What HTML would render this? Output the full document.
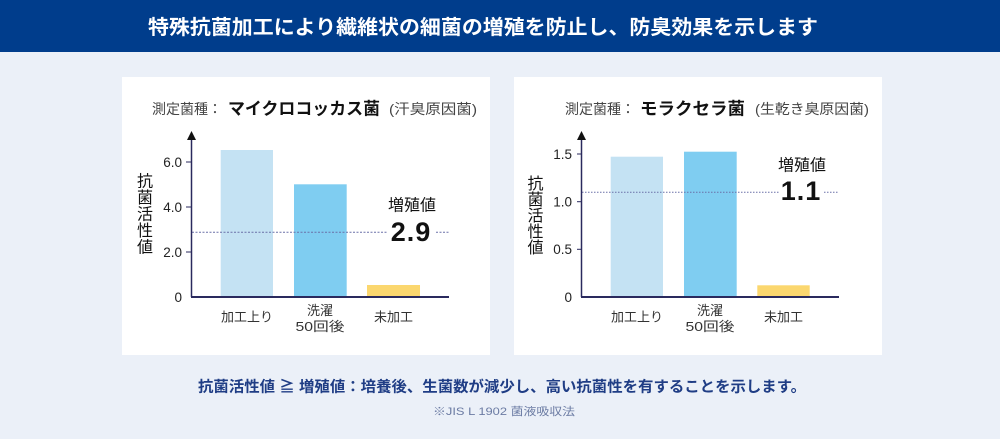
<!DOCTYPE html>
<html><head><meta charset="utf-8"><style>
html,body{margin:0;padding:0;background:#ebf0f8;}
svg{display:block;}
text{font-family:"Liberation Sans","Noto Sans CJK JP",sans-serif;}
</style></head><body>
<svg width="1000" height="439" viewBox="0 0 1000 439" xmlns="http://www.w3.org/2000/svg">
<rect x="0" y="0" width="1000" height="439" fill="#ebf0f8"/>
<rect x="0" y="0" width="1000" height="52" fill="#003d8c"/>
<text x="148" y="34" font-size="20" font-weight="bold" fill="#ffffff" textLength="670" lengthAdjust="spacingAndGlyphs">特殊抗菌加工により繊維状の細菌の増殖を防止し、防臭効果を示します</text>

<!-- Panel 1 -->
<rect x="122" y="77" width="368" height="278" fill="#ffffff"/>
<text y="114" font-size="14" fill="#444"><tspan x="152">測定菌種：</tspan></text>
<text x="228" y="114.5" font-size="17" font-weight="bold" fill="#111" textLength="152" lengthAdjust="spacingAndGlyphs">マイクロコッカス菌</text>
<text x="389" y="114" font-size="14" fill="#444" textLength="88" lengthAdjust="spacingAndGlyphs">(汗臭原因菌)</text>

<g font-size="16" fill="#111" text-anchor="middle">
<text x="145" y="186.5">抗</text>
<text x="145" y="203">菌</text>
<text x="145" y="219.5">活</text>
<text x="145" y="236">性</text>
<text x="145" y="252.5">値</text>
</g>
<g font-size="13.5" fill="#222" text-anchor="end">
<text x="182" y="166.8">6.0</text>
<text x="182" y="211.8">4.0</text>
<text x="182" y="256.8">2.0</text>
<text x="182" y="301.8">0</text>
</g>
<g stroke="#2a2a5e" stroke-width="1">
<line x1="186" y1="162" x2="191" y2="162"/>
<line x1="186" y1="207" x2="191" y2="207"/>
<line x1="186" y1="252" x2="191" y2="252"/>
</g>
<rect x="220.7" y="150" width="52.3" height="146.5" fill="#c4e2f3"/>
<rect x="294" y="184.3" width="52.7" height="112.2" fill="#7fcdf1"/>
<rect x="367" y="285" width="53" height="11.5" fill="#fbd76f"/>
<line x1="192" y1="232.3" x2="387" y2="232.3" stroke="#6a70a8" stroke-width="1" stroke-dasharray="2,1.5"/>
<line x1="436" y1="232.3" x2="449" y2="232.3" stroke="#6a70a8" stroke-width="1" stroke-dasharray="2,1.5"/>
<line x1="191.5" y1="138" x2="191.5" y2="297" stroke="#2a2a5e" stroke-width="1.5"/>
<polygon points="191.5,131 187,140 196,140" fill="#111"/>
<line x1="191" y1="297" x2="449" y2="297" stroke="#2a2a5e" stroke-width="2"/>
<text x="412" y="210.5" font-size="16" fill="#111" text-anchor="middle">増殖値</text>
<text x="411" y="241" font-size="27" font-weight="bold" fill="#111" text-anchor="middle" letter-spacing="1">2.9</text>
<g font-size="13" fill="#333" text-anchor="middle">
<text x="247" y="321.5">加工上り</text>
<text x="320" y="315">洗濯</text>
<text x="295.5" y="331" text-anchor="start" textLength="49" lengthAdjust="spacingAndGlyphs">50回後</text>
<text x="393.5" y="321.5">未加工</text>
</g>

<!-- Panel 2 -->
<rect x="514" y="77" width="368" height="278" fill="#ffffff"/>
<text x="565" y="114" font-size="14" fill="#444">測定菌種：</text>
<text x="640" y="114.5" font-size="17" font-weight="bold" fill="#111" textLength="105" lengthAdjust="spacingAndGlyphs">モラクセラ菌</text>
<text x="755" y="114" font-size="14" fill="#444" textLength="114" lengthAdjust="spacingAndGlyphs">(生乾き臭原因菌)</text>

<g font-size="16" fill="#111" text-anchor="middle">
<text x="535.5" y="189">抗</text>
<text x="535.5" y="205">菌</text>
<text x="535.5" y="221">活</text>
<text x="535.5" y="237">性</text>
<text x="535.5" y="253">値</text>
</g>
<g font-size="13.5" fill="#222" text-anchor="end">
<text x="572" y="158.8">1.5</text>
<text x="572" y="206.5">1.0</text>
<text x="572" y="254.1">0.5</text>
<text x="572" y="301.8">0</text>
</g>
<g stroke="#2a2a5e" stroke-width="1">
<line x1="577" y1="154" x2="581" y2="154"/>
<line x1="577" y1="201.7" x2="581" y2="201.7"/>
<line x1="577" y1="249.3" x2="581" y2="249.3"/>
</g>
<rect x="610.7" y="156.7" width="52.3" height="139.8" fill="#c4e2f3"/>
<rect x="684" y="151.7" width="52.7" height="144.8" fill="#7fcdf1"/>
<rect x="757.3" y="285.3" width="52.4" height="11.2" fill="#fbd76f"/>
<line x1="582" y1="192.3" x2="779" y2="192.3" stroke="#6a70a8" stroke-width="1" stroke-dasharray="1.5,1.5"/>
<line x1="824" y1="192.3" x2="839" y2="192.3" stroke="#6a70a8" stroke-width="1" stroke-dasharray="1.5,1.5"/>
<line x1="581.5" y1="138" x2="581.5" y2="297" stroke="#2a2a5e" stroke-width="1.5"/>
<polygon points="581.5,131 577,140 586,140" fill="#111"/>
<line x1="581" y1="297" x2="839" y2="297" stroke="#2a2a5e" stroke-width="2"/>
<text x="802" y="170.5" font-size="16" fill="#111" text-anchor="middle">増殖値</text>
<text x="801" y="200" font-size="27" font-weight="bold" fill="#111" text-anchor="middle" letter-spacing="1">1.1</text>
<g font-size="13" fill="#333" text-anchor="middle">
<text x="637" y="321.5">加工上り</text>
<text x="710" y="315">洗濯</text>
<text x="685.5" y="331" text-anchor="start" textLength="49" lengthAdjust="spacingAndGlyphs">50回後</text>
<text x="783.5" y="321.5">未加工</text>
</g>

<!-- Bottom -->
<text x="198" y="391.5" font-size="15" font-weight="bold" fill="#1f3d85" textLength="608" lengthAdjust="spacingAndGlyphs">抗菌活性値 ≧ 増殖値：培養後、生菌数が減少し、高い抗菌性を有することを示します。</text>
<text x="433" y="415" font-size="11" fill="#6b7ba3" textLength="142" lengthAdjust="spacingAndGlyphs">※JIS L 1902  菌液吸収法</text>
</svg>
</body></html>
